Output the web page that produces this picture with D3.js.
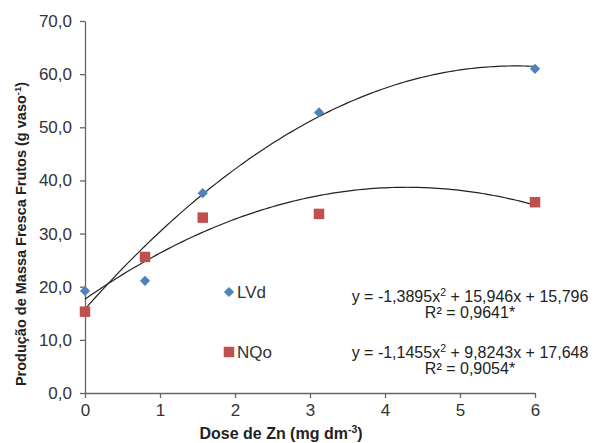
<!DOCTYPE html>
<html>
<head>
<meta charset="utf-8">
<script src="https://cdn.jsdelivr.net/npm/d3@7"></script>
<style>
  body { margin: 0; background: #fff; }
  text { font-family: Arial, "Liberation Sans", sans-serif; }
</style>
</head>
<body>
<div id="chart"></div>
<script>
var svgWidth = 600;
var svgHeight = 443;

var margin = { top: 21, right: 65, bottom: 50, left: 85 };

var width = svgWidth - margin.left - margin.right;
var height = svgHeight - margin.top - margin.bottom;

// data
var doses = [0, 0.8, 1.57, 3.12, 6];
var lvd = [19.2, 21.1, 37.6, 52.8, 61.0];
var nqo = [15.3, 25.6, 33.0, 33.7, 35.9];

// regression coefficients shown on the chart [a, b, c] for y = a x² + b x + c
var lvdFit = [-1.3895, 15.946, 15.796];
var nqoFit = [-1.1455, 9.8243, 17.648];

var xTicks = [0, 1, 2, 3, 4, 5, 6];
var yTicks = [0, 10, 20, 30, 40, 50, 60, 70];

var svg = d3.select("#chart")
  .append("svg")
  .attr("width", svgWidth)
  .attr("height", svgHeight);

var chartGroup = svg.append("g")
  .attr("transform", `translate(${margin.left}, ${margin.top})`);

var xScale = d3.scaleLinear().domain([0, 6]).range([0, width]);
var yScale = d3.scaleLinear().domain([0, 70]).range([height, 0]);

var comma = s => String(s).replace(".", ",");
var fmt = d => comma(d3.format(".1f")(d));

var xAxis = d3.axisBottom(xScale).tickValues(xTicks).tickSize(5).tickSizeOuter(0)
  .tickPadding(6).tickFormat(d3.format("d"));
var yAxis = d3.axisLeft(yScale).tickValues(yTicks).tickSize(5).tickSizeOuter(0)
  .tickPadding(8).tickFormat(fmt);

var gx = chartGroup.append("g")
  .attr("transform", `translate(0, ${height})`)
  .call(xAxis);
var gy = chartGroup.append("g").call(yAxis);

[gx, gy].forEach(function(g) {
  g.selectAll("path, line").attr("stroke", "#666").attr("stroke-width", 1.3);
  g.selectAll("text").attr("fill", "#333").style("font-size", "17px");
});

// trend lines
function poly(c) {
  return function(x) { return c[0] * x * x + c[1] * x + c[2]; };
}
var samples = d3.range(0, 6.001, 0.05);
var line = d3.line()
  .x(d => xScale(d[0]))
  .y(d => yScale(d[1]));

[lvdFit, nqoFit].forEach(function(c) {
  var f = poly(c);
  chartGroup.append("path")
    .datum(samples.map(x => [x, f(x)]))
    .attr("d", line)
    .attr("fill", "none")
    .attr("stroke", "#222")
    .attr("stroke-width", 1.2);
});

// markers
var diamond = d3.symbol().type(d3.symbolSquare).size(52);
var square = d3.symbol().type(d3.symbolSquare).size(110);

chartGroup.selectAll(".lvd")
  .data(doses)
  .enter().append("path")
  .attr("d", diamond)
  .attr("fill", "#4F81BD")
  .attr("transform", (d, i) => `translate(${xScale(d)}, ${yScale(lvd[i])}) rotate(45)`);

chartGroup.selectAll(".nqo")
  .data(doses)
  .enter().append("path")
  .attr("d", square)
  .attr("fill", "#C0504D")
  .attr("transform", (d, i) => `translate(${xScale(d)}, ${yScale(nqo[i])})`);

// legend
svg.append("path").attr("d", diamond).attr("fill", "#4F81BD")
  .attr("transform", "translate(229, 292) rotate(45)");
svg.append("text").attr("x", 237).attr("y", 298).attr("fill", "#333")
  .style("font-size", "17px").text("LVd");
svg.append("path").attr("d", square).attr("fill", "#C0504D")
  .attr("transform", "translate(229, 352)");
svg.append("text").attr("x", 237).attr("y", 358).attr("fill", "#333")
  .style("font-size", "17px").text("NQo");

// equations
function equation(y, c, r2) {
  var t = svg.append("text").attr("x", 470).attr("y", y)
    .attr("text-anchor", "middle").attr("fill", "#222").style("font-size", "16px");
  t.append("tspan").text("y = " + comma(c[0]) + "x");
  t.append("tspan").attr("dy", -6).style("font-size", "10.5px").text("2");
  t.append("tspan").attr("dy", 6).text(" + " + comma(c[1]) + "x + " + comma(c[2]));
  svg.append("text").attr("x", 470).attr("y", y + 16)
    .attr("text-anchor", "middle").attr("fill", "#222").style("font-size", "16px")
    .text("R² = " + r2 + "*");
}
equation(302, lvdFit, "0,9641");
equation(358, nqoFit, "0,9054");

// axis titles
var xt = svg.append("text")
  .attr("x", 281).attr("y", 439)
  .attr("text-anchor", "middle").attr("fill", "#222")
  .style("font-size", "16px").style("font-weight", "bold");
xt.append("tspan").text("Dose de Zn (mg dm");
xt.append("tspan").attr("dy", -6).style("font-size", "10.5px").text("-3");
xt.append("tspan").attr("dy", 6).text(")");

var yt = svg.append("text")
  .attr("transform", "translate(26, 234) rotate(-90)")
  .attr("text-anchor", "middle").attr("fill", "#222")
  .style("font-size", "14.5px").style("font-weight", "bold");
yt.append("tspan").text("Produção de Massa Fresca Frutos (g vaso");
yt.append("tspan").attr("dy", -5).style("font-size", "9.5px").text("-1");
yt.append("tspan").attr("dy", 5).text(")");
</script>
</body>
</html>
